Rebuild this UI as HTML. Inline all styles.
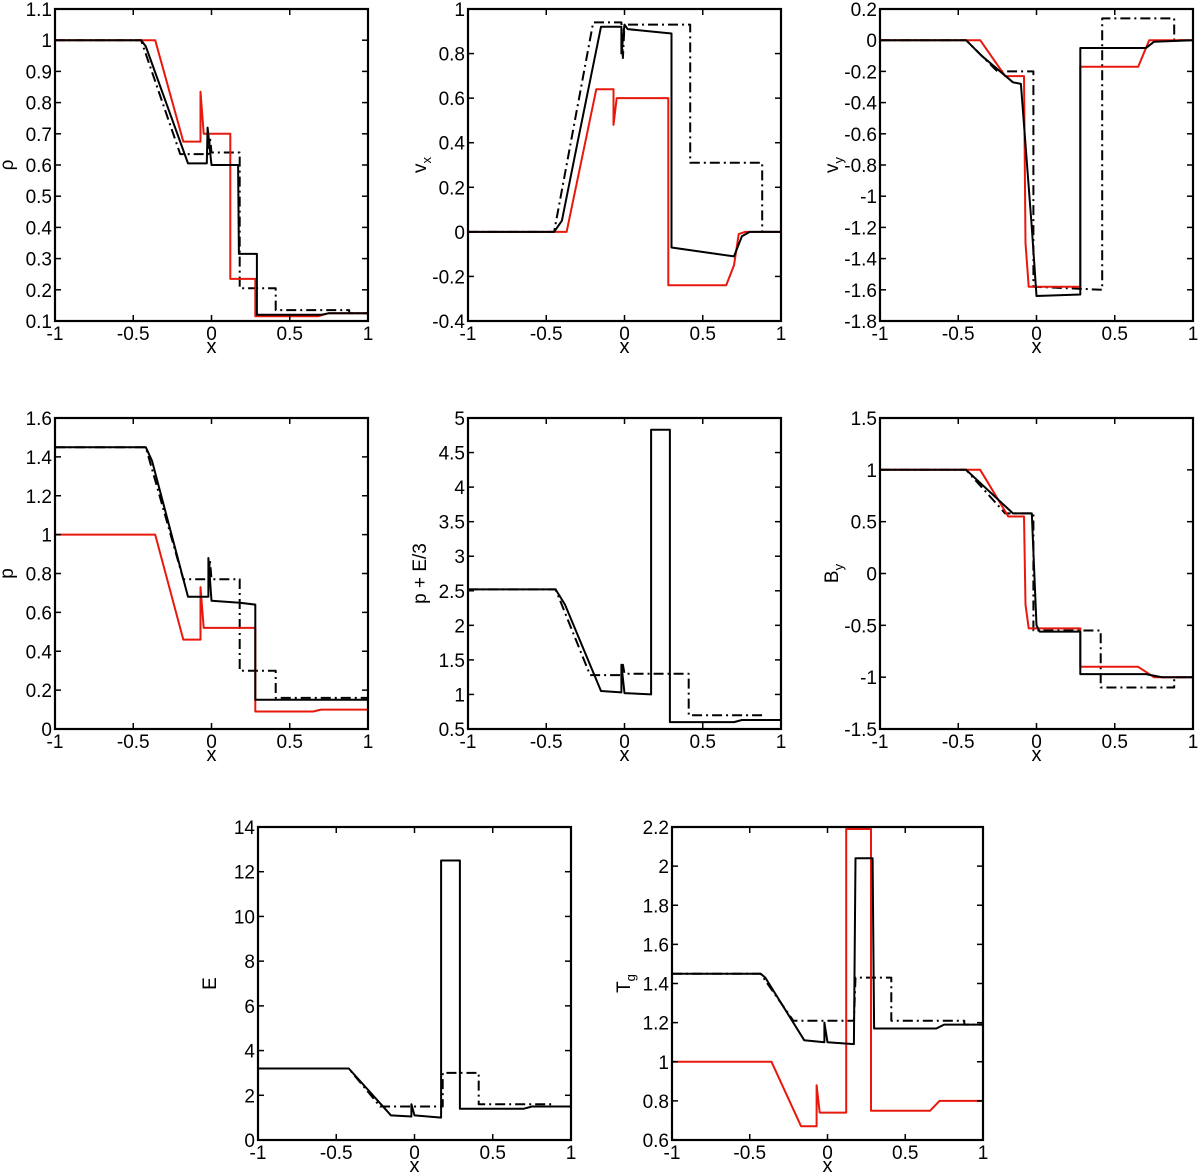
<!DOCTYPE html>
<html><head><meta charset="utf-8">
<style>
html,body{margin:0;padding:0;background:#fff;}
svg{display:block;font-family:"Liberation Sans",Arial,sans-serif;}
</style></head>
<body>
<svg id="fig" width="1200" height="1172" viewBox="0 0 1200 1172" xmlns="http://www.w3.org/2000/svg"></svg>
<script>
// ---- data (x positions and values) ----
const xTicks=[-1,-0.5,0,0.5,1];
const xTickLabels=["-1","-0.5","0","0.5","1"];

const rhoTicks=[0.1,0.2,0.3,0.4,0.5,0.6,0.7,0.8,0.9,1,1.1];
const rhoSolidX=[-1,-0.45,-0.42,-0.15,-0.03,-0.025,0,0.17,0.175,0.29,0.29,0.7,0.75,1];
const rhoSolidY=[1,1,0.98,0.605,0.605,0.72,0.6,0.6,0.315,0.315,0.12,0.12,0.125,0.125];
const rhoDashX=[-1,-0.45,-0.2,-0.02,-0.01,0,0.18,0.18,0.41,0.41,0.88,0.88,1];
const rhoDashY=[1,1,0.635,0.635,0.69,0.64,0.64,0.205,0.205,0.135,0.135,0.125,0.125];
const rhoRedX=[-1,-0.36,-0.18,-0.07,-0.07,-0.05,0.12,0.12,0.28,0.28,0.68,0.75,1];
const rhoRedY=[1,1,0.675,0.675,0.835,0.7,0.7,0.235,0.235,0.115,0.115,0.125,0.125];

const vxTicks=[-0.4,-0.2,0,0.2,0.4,0.6,0.8,1];
const vxSolidX=[-1,-0.45,-0.4,-0.3,-0.15,-0.02,-0.02,0,0.02,0.3,0.3,0.7,0.75,0.8,1];
const vxSolidY=[0,0,0.05,0.4,0.92,0.92,0.8,0.93,0.91,0.89,-0.07,-0.11,-0.02,0,0];
const vxDashX=[-1,-0.45,-0.2,-0.02,-0.01,0,0.42,0.42,0.88,0.88,1];
const vxDashY=[0,0,0.94,0.94,0.78,0.93,0.93,0.31,0.31,0,0];
const vxRedX=[-1,-0.37,-0.18,-0.07,-0.07,-0.05,0.28,0.28,0.65,0.7,0.73,0.77,1];
const vxRedY=[0,0,0.64,0.64,0.48,0.6,0.6,-0.24,-0.24,-0.15,-0.01,0,0];

const vyTicks=[-1.8,-1.6,-1.4,-1.2,-1,-0.8,-0.6,-0.4,-0.2,0,0.2];
const vySolidX=[-1,-0.45,-0.35,-0.15,-0.1,-0.03,0,0.28,0.28,0.7,0.75,1];
const vySolidY=[0,0,-0.1,-0.27,-0.28,-1.2,-1.64,-1.63,-0.05,-0.05,-0.01,0];
const vyDashX=[-1,-0.45,-0.25,-0.02,-0.02,0.42,0.42,0.88,0.88,1];
const vyDashY=[0,0,-0.2,-0.2,-1.58,-1.6,0.14,0.14,0,0];
const vyRedX=[-1,-0.36,-0.2,-0.08,-0.07,-0.05,0.28,0.28,0.65,0.72,1];
const vyRedY=[0,0,-0.23,-0.23,-1.3,-1.58,-1.58,-0.17,-0.17,0,0];

const pTicks=[0,0.2,0.4,0.6,0.8,1,1.2,1.4,1.6];
const pSolidX=[-1,-0.42,-0.38,-0.15,-0.02,-0.02,0,0.18,0.28,0.28,0.7,1];
const pSolidY=[1.45,1.45,1.38,0.68,0.68,0.88,0.66,0.65,0.64,0.15,0.15,0.15];
const pDashX=[-1,-0.42,-0.18,-0.02,-0.01,0,0.18,0.18,0.41,0.41,1];
const pDashY=[1.45,1.45,0.77,0.77,0.87,0.77,0.77,0.3,0.3,0.16,0.16];
const pRedX=[-1,-0.36,-0.18,-0.07,-0.07,-0.05,0.28,0.28,0.65,0.7,1];
const pRedY=[1,1,0.46,0.46,0.73,0.52,0.52,0.09,0.09,0.1,0.1];

const peTicks=[0.5,1,1.5,2,2.5,3,3.5,4,4.5,5];
const peSolidX=[-1,-0.44,-0.38,-0.15,-0.02,-0.02,0,0.17,0.17,0.29,0.29,0.7,0.75,1];
const peSolidY=[2.52,2.52,2.3,1.05,1.03,1.43,1.02,1.0,4.83,4.83,0.6,0.6,0.63,0.63];
const peDashX=[-1,-0.44,-0.22,-0.02,-0.01,0,0.41,0.41,0.88,0.88,1];
const peDashY=[2.52,2.52,1.28,1.28,1.43,1.3,1.3,0.7,0.7,0.63,0.63];

const byTicks=[-1.5,-1,-0.5,0,0.5,1,1.5];
const bySolidX=[-1,-0.45,-0.15,-0.03,0,0.02,0.28,0.28,0.7,0.8,1];
const bySolidY=[1,1,0.58,0.58,-0.5,-0.56,-0.56,-0.97,-0.97,-1,-1];
const byDashX=[-1,-0.45,-0.2,-0.02,-0.02,0.41,0.41,0.88,0.88,1];
const byDashY=[1,1,0.58,0.58,-0.55,-0.55,-1.1,-1.1,-1,-1];
const byRedX=[-1,-0.36,-0.18,-0.08,-0.07,-0.05,0.28,0.28,0.65,0.75,1];
const byRedY=[1,1,0.55,0.55,-0.3,-0.53,-0.53,-0.9,-0.9,-1,-1];

const eTicks=[0,2,4,6,8,10,12,14];
const eSolidX=[-1,-0.42,-0.15,-0.02,-0.02,0,0.17,0.17,0.29,0.29,0.7,0.75,1];
const eSolidY=[3.2,3.2,1.1,1.05,1.6,1.1,1.0,12.5,12.5,1.4,1.4,1.5,1.5];
const eDashX=[-1,-0.42,-0.22,0.18,0.18,0.41,0.41,0.88,0.88,1];
const eDashY=[3.2,3.2,1.5,1.5,3.0,3.0,1.6,1.6,1.5,1.5];

const tgTicks=[0.6,0.8,1,1.2,1.4,1.6,1.8,2,2.2];
const tgSolidX=[-1,-0.43,-0.4,-0.15,-0.02,-0.02,0,0.17,0.18,0.29,0.3,0.7,0.75,1];
const tgSolidY=[1.45,1.45,1.43,1.11,1.1,1.2,1.1,1.09,2.04,2.04,1.17,1.17,1.19,1.19];
const tgDashX=[-1,-0.43,-0.22,0.17,0.18,0.41,0.41,0.88,0.88,1];
const tgDashY=[1.45,1.45,1.21,1.21,1.43,1.43,1.21,1.21,1.19,1.19];
const tgRedX=[-1,-0.36,-0.17,-0.07,-0.07,-0.05,0.12,0.12,0.28,0.28,0.66,0.72,1];
const tgRedY=[1,1,0.67,0.67,0.88,0.74,0.74,2.19,2.19,0.75,0.75,0.8,0.8];

const NS="http://www.w3.org/2000/svg";
const svg=document.getElementById('fig');
function mk(tag,attrs,parent){const e=document.createElementNS(NS,tag);for(const k in attrs)e.setAttribute(k,attrs[k]);(parent||svg).appendChild(e);return e;}

function panel(id,L,R,T,B,ymin,ymax,yt,ylabelHTML,series){
  const g=mk('g',{});
  
  
  const sx=v=>L+(v+1)/2*(R-L);
  const sy=v=>B-(v-ymin)/(ymax-ymin)*(B-T);
  const cp='clip-'+id;
  const cl=mk('clipPath',{id:cp},g);mk('rect',{x:L,y:T,width:R-L,height:B-T},cl);
  series.forEach(s=>{
    let d='';
    s.x.forEach((xv,i)=>{d+=(i?'L':'M')+sx(xv).toFixed(1)+','+sy(s.y[i]).toFixed(1);});
    const p=mk('path',{d:d,fill:'none',stroke:s.c,'stroke-width':2,'stroke-linejoin':'round','clip-path':'url(#'+cp+')'},g);
    if(s.dash)p.setAttribute('stroke-dasharray','10,4,2,4');
    
    
  });
  const fr=mk('rect',{x:L,y:T,width:R-L,height:B-T,fill:'none',stroke:'#000','stroke-width':2.2},g);
  
  
  xTicks.forEach((v,i)=>{
    const X=sx(v);
    mk('line',{x1:X,y1:B,x2:X,y2:B-6,stroke:'#000','stroke-width':1.5},g);
    mk('line',{x1:X,y1:T,x2:X,y2:T+6,stroke:'#000','stroke-width':1.5},g);
    const t=mk('text',{x:X,y:B+19,'font-size':19,'text-anchor':'middle'},g);
    t.textContent=xTickLabels[i];
    
    
  });
  yt.forEach(v=>{
    const Y=sy(v);
    mk('line',{x1:L,y1:Y,x2:L+6,y2:Y,stroke:'#000','stroke-width':1.5},g);
    mk('line',{x1:R,y1:Y,x2:R-6,y2:Y,stroke:'#000','stroke-width':1.5},g);
    const t=mk('text',{x:L-3,y:Y+7,'font-size':19,'text-anchor':'end'},g);
    t.textContent=String(v);
    
    
  });
  const xl=mk('text',{x:(L+R)/2,y:B+32,'font-size':20,'text-anchor':'middle'},g);
  xl.textContent='x';
  
  
  const yl=mk('text',{x:0,y:0,'font-size':19,'text-anchor':'middle',transform:'translate('+(L-42)+','+((T+B)/2)+') rotate(-90)'},g);
  yl.innerHTML=ylabelHTML;
  
  
}
const S=(x,y)=>({x:x,y:y,c:'#000',n:'solid'});
const D=(x,y)=>({x:x,y:y,c:'#000',dash:true,n:'dashdot'});
const Rd=(x,y)=>({x:x,y:y,c:'#e8180c',n:'red'});

panel('rho',55,368,9,321,0.1,1.1,rhoTicks,'ρ',[D(rhoDashX,rhoDashY),Rd(rhoRedX,rhoRedY),S(rhoSolidX,rhoSolidY)]);
panel('vx',468,781,9,321,-0.4,1,vxTicks,'v<tspan font-size="13" dy="5">x</tspan>',[D(vxDashX,vxDashY),Rd(vxRedX,vxRedY),S(vxSolidX,vxSolidY)]);
panel('vy',880,1193,9,321,-1.8,0.2,vyTicks,'v<tspan font-size="13" dy="5">y</tspan>',[D(vyDashX,vyDashY),Rd(vyRedX,vyRedY),S(vySolidX,vySolidY)]);
panel('p',55,368,418,729,0,1.6,pTicks,'p',[D(pDashX,pDashY),Rd(pRedX,pRedY),S(pSolidX,pSolidY)]);
panel('pe',468,781,418,729,0.5,5,peTicks,'p + E/3',[D(peDashX,peDashY),S(peSolidX,peSolidY)]);
panel('by',880,1193,418,729,-1.5,1.5,byTicks,'B<tspan font-size="13" dy="5">y</tspan>',[D(byDashX,byDashY),Rd(byRedX,byRedY),S(bySolidX,bySolidY)]);
panel('e',258,571,827,1140,0,14,eTicks,'E',[D(eDashX,eDashY),S(eSolidX,eSolidY)]);
panel('tg',672,983,827,1140,0.6,2.2,tgTicks,'T<tspan font-size="13" dy="5">g</tspan>',[D(tgDashX,tgDashY),Rd(tgRedX,tgRedY),S(tgSolidX,tgSolidY)]);
</script>
</body></html>
